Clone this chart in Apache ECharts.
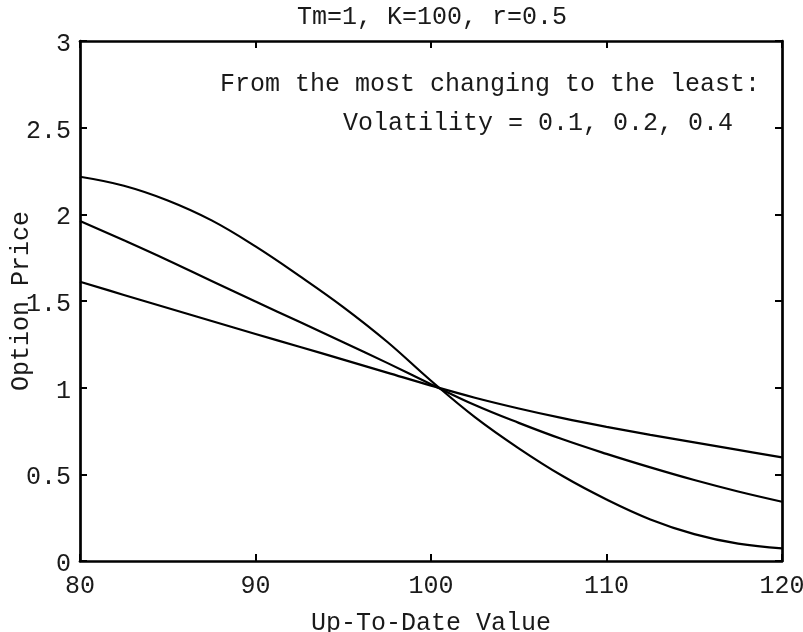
<!DOCTYPE html>
<html>
<head>
<meta charset="utf-8">
<script src="https://cdn.jsdelivr.net/npm/echarts@6/dist/echarts.min.js"></script>
<style>
	html, body { margin: 0; padding: 0; background: #fff; }
	#main { width: 803px; height: 632px; }
</style>
</head>
<body>
<div id="main"></div>
<script>
	// 横轴：Up-To-Date Value
	var xVals = [80, 82.5, 85, 87.5, 90, 92.5, 95, 97.5, 100, 102.5, 105, 107.5, 110, 112.5, 115, 117.5, 120];
	// 三条曲线，波动率 0.1 / 0.2 / 0.4
	var vol01 = [2.217, 2.165, 2.080, 1.965, 1.815, 1.645, 1.465, 1.265, 1.040, 0.830, 0.650, 0.490, 0.355, 0.240, 0.155, 0.100, 0.073];
	var vol02 = [1.962, 1.850, 1.735, 1.615, 1.497, 1.380, 1.262, 1.143, 1.020, 0.900, 0.797, 0.702, 0.618, 0.540, 0.467, 0.401, 0.342];
	var vol04 = [1.611, 1.535, 1.460, 1.385, 1.310, 1.236, 1.162, 1.087, 1.012, 0.942, 0.880, 0.824, 0.774, 0.728, 0.684, 0.641, 0.598];
	var xTicks = [80, 90, 100, 110, 120];
	var yTicks = [0, 0.5, 1, 1.5, 2, 2.5, 3];

	var fontName = "Liberation Mono";
	var textColor = "#1a1a1a";

	function pairs(ys) {
		var out = [];
		for (var i = 0; i < xVals.length; i++) {
			out.push([xVals[i], ys[i]]);
		}
		return out;
	}

	function lineSeries(ys) {
		return {
			type: 'line',
			data: pairs(ys),
			smooth: 0.4,
			showSymbol: false,
			symbol: 'none',
			lineStyle: {
				color: "#000",
				width: 2.2
			},
			silent: true
		};
	}

	var boxLine = { show: true, onZero: false, lineStyle: { color: "#000", width: 2.7 } };
	var tickIn = { show: true, inside: true, length: 7, lineStyle: { color: "#000", width: 2 } };

	var chart = echarts.init(document.getElementById("main"));
	var option = {
		animation: false,
		backgroundColor: "#fff",
		grid: {
			left: 80,
			right: 21,
			top: 41,
			bottom: 71,
			containLabel: false,
			outerBoundsMode: 'none'
		},
		xAxis: [{
			type: 'value',
			min: xTicks[0],
			max: xTicks[xTicks.length - 1],
			interval: 10,
			name: "Up-To-Date Value",
			nameLocation: 'middle',
			nameGap: 50,
			nameMoveOverlap: false,
			nameTextStyle: { fontFamily: fontName, fontSize: 25, color: textColor },
			axisLine: boxLine,
			axisTick: tickIn,
			splitLine: { show: false },
			axisLabel: {
				margin: 13,
				fontFamily: fontName,
				fontSize: 25,
				color: textColor
			}
		}, {
			type: 'value',
			position: 'top',
			min: xTicks[0],
			max: xTicks[xTicks.length - 1],
			interval: 10,
			axisLine: boxLine,
			axisTick: tickIn,
			splitLine: { show: false },
			axisLabel: { show: false }
		}],
		yAxis: [{
			type: 'value',
			min: yTicks[0],
			max: yTicks[yTicks.length - 1],
			interval: 0.5,
			name: "Option Price",
			nameLocation: 'middle',
			nameGap: 46,
			nameMoveOverlap: false,
			nameTextStyle: { fontFamily: fontName, fontSize: 25, color: textColor },
			axisLine: boxLine,
			axisTick: tickIn,
			splitLine: { show: false },
			axisLabel: {
				margin: 9,
				fontFamily: fontName,
				fontSize: 25,
				color: textColor,
				formatter: function(v) {
					return '{v|' + v + '}';
				},
				rich: {
					v: {
						fontFamily: fontName,
						fontSize: 25,
						color: textColor,
						padding: [7, 0, 0, 0]
					}
				}
			}
		}, {
			type: 'value',
			position: 'right',
			min: yTicks[0],
			max: yTicks[yTicks.length - 1],
			interval: 0.5,
			axisLine: boxLine,
			axisTick: tickIn,
			splitLine: { show: false },
			axisLabel: { show: false }
		}],
		graphic: [{
			type: 'text',
			x: 432,
			y: 17,
			style: {
				text: "Tm=1, K=100, r=0.5",
				font: "25px " + fontName,
				fill: textColor,
				align: 'center',
				verticalAlign: 'middle'
			}
		}, {
			type: 'text',
			x: 220,
			y: 84,
			style: {
				text: "From the most changing to the least:",
				font: "25px " + fontName,
				fill: textColor,
				align: 'left',
				verticalAlign: 'middle'
			}
		}, {
			type: 'text',
			x: 343,
			y: 123,
			style: {
				text: "Volatility = 0.1, 0.2, 0.4",
				font: "25px " + fontName,
				fill: textColor,
				align: 'left',
				verticalAlign: 'middle'
			}
		}],
		series: [
			lineSeries(vol01),
			lineSeries(vol02),
			lineSeries(vol04)
		]
	};
	chart.setOption(option);
</script>
</body>
</html>
